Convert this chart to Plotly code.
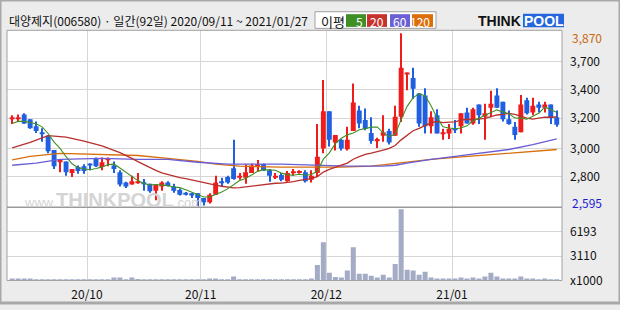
import numpy as np
import pandas as pd
import plotly.graph_objects as go

# ---------------- data ----------------
title_text = "대양제지(006580) · 일간(92일) 2020/09/11 ~ 2021/01/27"
holidays = ["2020-09-30", "2020-10-01", "2020-10-02", "2020-10-09",
            "2020-12-25", "2020-12-31", "2021-01-01"]
trade_days = [d for d in pd.bdate_range("2020-09-11", "2021-01-27")
              if d.strftime("%Y-%m-%d") not in holidays]

open_px = [3240, 3240, 3270, 3235, 3185, 3135, 3115, 3010, 2925, 2925,
           2840, 2885, 2890, 2910, 2950, 2885, 2940, 2895, 2845, 2770,
           2755, 2770, 2770, 2760, 2710, 2740, 2770, 2740, 2715, 2695,
           2690, 2690, 2655, 2625, 2680, 2780, 2810, 2875, 2805, 2805,
           2840, 2890, 2905, 2860, 2805, 2825, 2780, 2845, 2840, 2845,
           2790, 2840, 3020, 3295, 3065, 3085, 3015, 3150, 3300, 3230,
           3135, 3080, 3115, 3150, 3115, 3255, 3565, 3540, 3425, 3410,
           3185, 3265, 3125, 3130, 3170, 3185, 3285, 3205, 3345, 3255,
           3320, 3410, 3365, 3235, 3180, 3140, 3375, 3285, 3345, 3320,
           3345, 3250]
high_px = [3265, 3270, 3280, 3235, 3220, 3170, 3120, 3010, 2940, 2925,
           2870, 2895, 2905, 2910, 2955, 2955, 2955, 2925, 2860, 2775,
           2820, 2840, 2795, 2760, 2755, 2780, 2780, 2760, 2725, 2700,
           2695, 2690, 2655, 2690, 2820, 2805, 2820, 3085, 2840, 2905,
           2910, 2935, 2910, 2870, 2840, 2840, 2855, 2870, 2860, 2860,
           2860, 3200, 3525, 3295, 3120, 3090, 3180, 3500, 3335, 3315,
           3250, 3100, 3265, 3165, 3335, 3870, 3580, 3615, 3430, 3465,
           3295, 3310, 3165, 3200, 3230, 3280, 3320, 3320, 3345, 3350,
           3445, 3465, 3365, 3300, 3215, 3415, 3395, 3395, 3365, 3365,
           3345, 3300]
low_px = [3200, 3215, 3200, 3165, 3135, 3070, 2985, 2870, 2845, 2820,
          2810, 2835, 2835, 2860, 2885, 2860, 2890, 2840, 2740, 2730,
          2755, 2760, 2710, 2695, 2640, 2710, 2740, 2695, 2675, 2675,
          2655, 2595, 2600, 2615, 2680, 2745, 2760, 2790, 2790, 2760,
          2840, 2855, 2855, 2775, 2795, 2780, 2775, 2820, 2835, 2770,
          2770, 2810, 2985, 3035, 3005, 3005, 3005, 3150, 3170, 3155,
          3055, 3025, 3070, 3050, 3115, 3215, 3450, 3385, 3180, 3130,
          3130, 3130, 3085, 3090, 3135, 3130, 3205, 3195, 3200, 3085,
          3250, 3320, 3220, 3195, 3085, 3140, 3270, 3265, 3285, 3285,
          3200, 3180]
close_px = [3245, 3245, 3205, 3170, 3150, 3130, 3000, 2890, 2935, 2845,
            2870, 2855, 2855, 2895, 2890, 2920, 2950, 2870, 2755, 2740,
            2780, 2775, 2760, 2705, 2755, 2770, 2745, 2710, 2680, 2680,
            2675, 2655, 2625, 2680, 2770, 2770, 2770, 2795, 2820, 2845,
            2895, 2905, 2860, 2820, 2820, 2790, 2840, 2850, 2855, 2780,
            2820, 2960, 3295, 3085, 3120, 3020, 3085, 3360, 3205, 3165,
            3075, 3090, 3140, 3065, 3255, 3615, 3580, 3460, 3205, 3185,
            3250, 3130, 3130, 3165, 3155, 3280, 3205, 3310, 3265, 3280,
            3350, 3320, 3235, 3200, 3120, 3345, 3280, 3335, 3320, 3345,
            3245, 3195]
volume_k = [250, 250, 250, 250, 120, 120, 120, 120, 120, 120,
            120, 120, 120, 120, 120, 120, 120, 370, 370, 120,
            370, 180, 120, 120, 120, 120, 120, 120, 120, 120,
            120, 120, 120, 250, 250, 120, 120, 500, 120, 120,
            120, 120, 120, 120, 120, 120, 120, 120, 120, 120,
            250, 1980, 4870, 990, 460, 370, 1280, 4220, 870, 870,
            620, 370, 740, 370, 2110, 9050, 1360, 1280, 740, 1120,
            370, 250, 250, 250, 250, 370, 250, 370, 250, 500,
            990, 500, 250, 250, 250, 500, 250, 250, 120, 250,
            120, 120]

ma5_head = [3205, 3220, 3220, 3210]
ma20_head_idx = [0, 3, 6, 9, 12, 15, 18]
ma20_head = [3025, 3065, 3115, 3105, 3075, 3040, 2990]
ma60_idx = [0, 4, 8, 15, 21, 26, 31, 36, 45, 50, 56, 62, 64, 66, 70, 74, 78, 83, 87, 91]
ma60_val = [2897, 2912, 2941, 2948, 2941, 2941, 2919, 2905, 2905, 2897,
            2890, 2890, 2897, 2912, 2941, 2962, 2984, 3013, 3049, 3092]
ma120_idx = [0, 3, 8, 16, 21, 26, 31, 34, 38, 45, 50, 55, 60, 63, 66, 70, 74, 78, 83, 87, 91]
ma120_val = [2937, 2962, 2984, 2977, 2969, 2948, 2926, 2905, 2890, 2883, 2883,
             2883, 2890, 2905, 2919, 2941, 2955, 2969, 2984, 2998, 3013]

price_tick_vals = [3661, 3452, 3243, 3020, 2811]
price_tick_text = ["3,700", "3,400", "3,200", "3,000", "2,800"]
vol_tick_vals = [0, 3110, 6193]
vol_tick_text = ["x1000", "3110", "6193"]
ma_labels = ["5", "20", "60", "120"]

# ---------------- styles ----------------
W, H = 620, 310
RED, BLUE = "#f01c1c", "#1f5fe0"
MA_COLORS = ["#3f8f24", "#b8302c", "#6a5ed6", "#d86e0c"]
LEGEND_COLORS = ["#3f8f24", "#c8322d", "#6b5fd6", "#dc6e0a"]
VOL_COLOR = "#a3abc5"
GRID = "#d6d6d6"
FONT = "Noto Sans CJK KR"


def fx(px):
    return px / W


def fy(py):
    return 1 - py / H


n = len(close_px)
idx = np.arange(n)
o = np.array(open_px, float)
c = np.array(close_px, float)
hi = np.array(high_px, float)
lo = np.array(low_px, float)
up = c >= o
cols = [RED if u else BLUE for u in up]

cs = pd.Series(c)
ma5 = cs.rolling(5).mean().to_numpy()
ma5[:4] = ma5_head
ma20 = cs.rolling(20).mean().to_numpy()
ma20_x = list(ma20_head_idx) + list(range(19, n))
ma20_y = list(ma20_head) + list(ma20[19:])

months = [d.month for d in trade_days]
month_pos = [i - 0.5 for i in range(1, n) if months[i] != months[i - 1]]
month_txt = [trade_days[i].strftime("%y/%m") for i in range(1, n) if months[i] != months[i - 1]]

fig = go.Figure()

# MA lines (behind candles)
fig.add_trace(go.Scatter(x=ma120_idx, y=ma120_val, mode="lines",
                         line=dict(color=MA_COLORS[3], width=1.3), xaxis="x", yaxis="y"))
fig.add_trace(go.Scatter(x=ma60_idx, y=ma60_val, mode="lines",
                         line=dict(color=MA_COLORS[2], width=1.3), xaxis="x", yaxis="y"))
fig.add_trace(go.Scatter(x=ma20_x, y=ma20_y, mode="lines",
                         line=dict(color=MA_COLORS[1], width=1.3), xaxis="x", yaxis="y"))
fig.add_trace(go.Scatter(x=idx, y=ma5, mode="lines",
                         line=dict(color=MA_COLORS[0], width=1.1), xaxis="x", yaxis="y"))

# candle wicks and bodies
fig.add_trace(go.Bar(x=idx, y=hi - lo, base=lo, width=0.17, marker=dict(color=cols, line=dict(width=0)),
                     xaxis="x", yaxis="y"))
fig.add_trace(go.Bar(x=idx, y=np.maximum(np.abs(c - o), 7.5), base=np.minimum(o, c), width=0.82,
                     marker=dict(color=cols, line=dict(width=0)), xaxis="x", yaxis="y"))

# volume
fig.add_trace(go.Bar(x=idx, y=volume_k, width=0.84, marker=dict(color=VOL_COLOR, line=dict(width=0)),
                     xaxis="x2", yaxis="y2"))

x_dom = [fx(7), fx(562)]
x_rng = [-0.87, n - 0.12]
p_rng = [min(low_px) - 7, max(high_px) + 21]

fig.update_layout(
    width=W, height=H, margin=dict(l=0, r=0, t=0, b=0),
    paper_bgcolor="#ececec", plot_bgcolor="white",
    showlegend=False, barmode="overlay",
    font=dict(family=FONT, size=12, color="#111111"),
    xaxis=dict(domain=x_dom, anchor="y", range=x_rng, tickvals=month_pos, showticklabels=False,
               showgrid=True, gridcolor=GRID, gridwidth=1, zeroline=False, showline=False, ticks=""),
    xaxis2=dict(domain=x_dom, anchor="y2", range=x_rng, matches="x", tickvals=month_pos, ticktext=month_txt,
                showgrid=True, gridcolor=GRID, gridwidth=1, zeroline=False, showline=False, ticks="",
                ticklabelstandoff=5,
                tickfont=dict(family=FONT, size=12, color="#111111")),
    yaxis=dict(domain=[fy(212), fy(31)], anchor="x", side="right", range=p_rng,
               tickvals=price_tick_vals, ticktext=price_tick_text, showgrid=True, gridcolor=GRID,
               gridwidth=1, zeroline=False, showline=False, ticks="", ticklabelstandoff=7,
               tickfont=dict(family=FONT, size=12, color="#111111")),
    yaxis2=dict(domain=[fy(287), fy(212)], anchor="x2", side="right", range=[0, 9300],
                tickvals=vol_tick_vals, ticktext=vol_tick_text, showgrid=True, gridcolor=GRID,
                gridwidth=1, zeroline=False, showline=False, ticks="", ticklabelstandoff=7,
                tickfont=dict(family=FONT, size=12, color="#111111")),
)

shapes = []
# panel frame and separator
shapes.append(dict(type="rect", xref="paper", yref="paper", x0=fx(7), x1=fx(562), y0=fy(287), y1=fy(31),
                   line=dict(color="#a2a2a2", width=1), layer="above"))
shapes.append(dict(type="line", xref="paper", yref="paper", x0=fx(7), x1=fx(562), y0=fy(212), y1=fy(212),
                   line=dict(color="#9a9a9a", width=1.5), layer="above"))
# outer frame
shapes.append(dict(type="rect", xref="paper", yref="paper", x0=0, x1=1, y0=0, y1=1,
                   line=dict(color="#a8a8a8", width=3), layer="above"))
# legend box
shapes.append(dict(type="rect", xref="paper", yref="paper", x0=fx(315), x1=fx(436), y0=fy(29), y1=fy(12),
                   line=dict(color="#a0a0a0", width=1), fillcolor="white"))
leg_x = [(346, 366), (367, 387), (390, 410), (412, 433)]
annotations = []
for (a, b), col, lab in zip(leg_x, LEGEND_COLORS, ma_labels):
    shapes.append(dict(type="rect", xref="paper", yref="paper", x0=fx(a), x1=fx(b), y0=fy(27.5), y1=fy(14.5),
                       line=dict(width=0), fillcolor=col))
    annotations.append(dict(xref="paper", yref="paper", x=fx(b - 1), y=fy(21.5), text=lab, showarrow=False,
                            xanchor="right", yanchor="middle",
                            font=dict(family=FONT, size=12, color="white")))
annotations.append(dict(xref="paper", yref="paper", x=fx(319), y=fy(21.5), text="이평", showarrow=False,
                        xanchor="left", yanchor="middle", font=dict(family=FONT, size=13, color="#111111")))
# THINKPOOL logo
shapes.append(dict(type="rect", xref="paper", yref="paper", x0=fx(523), x1=fx(564), y0=fy(28), y1=fy(14),
                   line=dict(width=0), fillcolor="#2466dc"))
annotations.append(dict(xref="paper", yref="paper", x=fx(523), y=fy(21.5), text="<b>THINK</b>", showarrow=False,
                        xanchor="right", yanchor="middle",
                        font=dict(family="Liberation Sans", size=14, color="#111111")))
annotations.append(dict(xref="paper", yref="paper", x=fx(543.5), y=fy(21.5), text="<b>POOL</b>", showarrow=False,
                        xanchor="center", yanchor="middle",
                        font=dict(family="Liberation Sans", size=14, color="white")))
# title
annotations.append(dict(xref="paper", yref="paper", x=fx(7), y=fy(21), text=title_text, showarrow=False,
                        xanchor="left", yanchor="middle", font=dict(family=FONT, size=12, color="#111111")))
# max / min labels
annotations.append(dict(xref="paper", yref="paper", x=fx(570), y=fy(38), text=f"{max(high_px):,}",
                        showarrow=False, xanchor="left", yanchor="middle",
                        font=dict(family=FONT, size=12, color="#c8690f")))
annotations.append(dict(xref="paper", yref="paper", x=fx(570), y=fy(207), text=f"{min(low_px):,}",
                        showarrow=False, xanchor="left", yanchor="middle",
                        font=dict(family=FONT, size=12, color="#1a1ad8")))
# watermark
annotations.append(dict(xref="paper", yref="paper", x=fx(22), y=fy(205), showarrow=False,
                        xanchor="left", yanchor="middle",
                        text="<span style='font-size:13px'>www.</span><b>THINKPOOL</b>"
                             "<span style='font-size:13px'>.com</span>",
                        font=dict(family="Liberation Sans Narrow, Liberation Sans", size=20, color="#d4d4d4")))

fig.update_layout(shapes=shapes, annotations=annotations)
fig.write_html("out.html")
